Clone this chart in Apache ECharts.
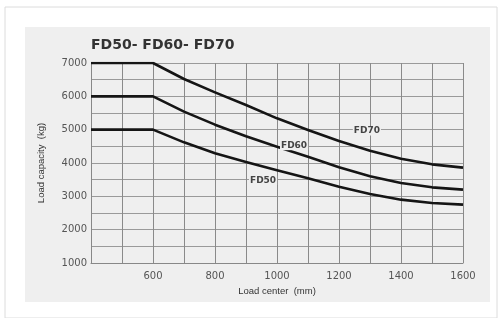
<!DOCTYPE html>
<html>
<head>
<meta charset="utf-8">
<script src="https://cdn.jsdelivr.net/npm/echarts@6/dist/echarts.min.js"></script>
<style>
  html, body { margin: 0; padding: 0; background: #fff; }
  #main { width: 500px; height: 318px; }
</style>
</head>
<body>
<div id="main"></div>
<script>
// load center (mm) and capacity (kg)
var loadCenter = [400, 500, 600, 700, 800, 900, 1000, 1100, 1200, 1300, 1400, 1500, 1600];
var fd50 = [5000, 5000, 5000, 4620, 4290, 4030, 3780, 3540, 3290, 3070, 2900, 2800, 2750];
var fd60 = [6000, 6000, 6000, 5540, 5150, 4800, 4490, 4190, 3870, 3600, 3400, 3270, 3200];
var fd70 = [7000, 7000, 7000, 6520, 6120, 5740, 5340, 4990, 4660, 4370, 4130, 3960, 3860];
var seriesNames = ['FD50', 'FD60', 'FD70'];
var labelPos = [[955, 3470], [1055, 4520], [1290, 4960]];

function pairs(ys) {
    return loadCenter.map(function (x, i) { return [x, ys[i]]; });
}

var myChart = echarts.init(document.getElementById('main'));
var lineData = [fd50, fd60, fd70];

var series = lineData.map(function (ys, i) {
    return {
        name: seriesNames[i],
        type: 'line',
        data: pairs(ys),
        showSymbol: false,
        lineStyle: { color: '#151515', width: 2.6, join: 'round' },
        markPoint: {
            symbol: 'circle',
            symbolSize: 0,
            data: [{ coord: labelPos[i] }],
            label: {
                show: true,
                formatter: seriesNames[i],
                color: '#444',
                fontFamily: 'DejaVu Sans',
                fontWeight: 'bold',
                fontSize: 9,
                backgroundColor: '#efefef',
                padding: [0, 1]
            }
        }
    };
});

option = {
    backgroundColor: '#fff',
    animation: false,
    graphic: [
        { type: 'rect', shape: { x: 5, y: 7, width: 492, height: 311 },
          style: { fill: '#fff', stroke: '#dcdcdc', lineWidth: 1 }, z: -10 },
        { type: 'rect', shape: { x: 25, y: 27, width: 465, height: 275 },
          style: { fill: '#efefef' }, z: -9 }
    ],
    title: {
        text: 'FD50- FD60- FD70',
        left: 86,
        top: 33,
        textStyle: { fontFamily: 'DejaVu Sans', fontWeight: 'bold', fontSize: 14, color: '#333' }
    },
    grid: { left: 91, right: 37, top: 63, bottom: 55 },
    xAxis: {
        type: 'value',
        min: 400,
        max: 1600,
        interval: 100,
        name: 'Load center  (mm)',
        nameLocation: 'middle',
        nameGap: 22,
        nameTextStyle: { fontFamily: 'Liberation Sans', fontSize: 9.5, color: '#333' },
        axisLine: { lineStyle: { color: '#888' } },
        axisTick: { show: false },
        axisLabel: {
            color: '#555', fontFamily: 'DejaVu Sans', fontSize: 10, margin: 8,
            formatter: function (v) { return (v >= 600 && v % 200 === 0) ? String(v) : ''; }
        },
        splitLine: { lineStyle: { color: '#8a8a8a', width: 1 } }
    },
    yAxis: {
        type: 'value',
        min: 1000,
        max: 7000,
        interval: 500,
        name: 'Load capacity  (kg)',
        nameLocation: 'middle',
        nameGap: 45,
        nameTextStyle: { fontFamily: 'Liberation Sans', fontSize: 9.5, color: '#333' },
        axisLine: { show: true, lineStyle: { color: '#888' } },
        axisTick: { show: false },
        axisLabel: {
            color: '#555', fontFamily: 'DejaVu Sans', fontSize: 10, margin: 4,
            formatter: function (v) { return v % 1000 === 0 ? String(v) : ''; }
        },
        splitLine: { lineStyle: { color: '#9a9a9a', width: 1 } }
    },
    series: series
};
myChart.setOption(option);
</script>
</body>
</html>
